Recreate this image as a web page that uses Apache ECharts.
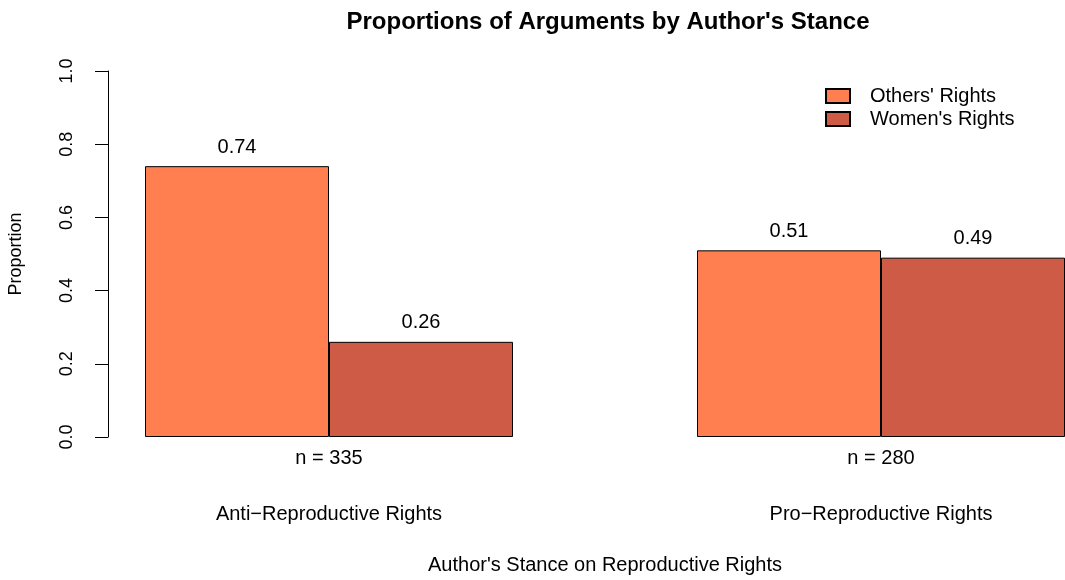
<!DOCTYPE html>
<html>
<head>
<meta charset="utf-8">
<script src="https://cdn.jsdelivr.net/npm/echarts@6/dist/echarts.min.js"></script>
<style>
  html, body { margin: 0; padding: 0; background: #fff; }
  #chart { width: 1065px; height: 580px; }
</style>
</head>
<body>
<div id="chart"></div>
<script>
// data
const stances = ["Anti\u2212Reproductive Rights", "Pro\u2212Reproductive Rights"];
const sampleSizes = ["n = 335", "n = 280"];
const othersRights = [0.74, 0.51];
const womensRights = [0.26, 0.49];

const font = "Liberation Sans, Arial, Helvetica, sans-serif";
const chart = echarts.init(document.getElementById("chart"));

const barLabel = {
  show: true,
  position: "top",
  distance: 9,
  color: "#000",
  fontFamily: font,
  fontSize: 20,
  formatter: (p) => p.value.toFixed(2),
};

const option = {
  animation: false,
  title: {
    text: "Proportions of Arguments by Author's Stance",
    left: 603,
    top: 5,
    textAlign: "center",
    textStyle: { fontFamily: font, fontSize: 24, fontWeight: "bold", color: "#000" },
  },
  legend: {
    orient: "vertical",
    left: 820,
    top: 81,
    icon: "rect",
    itemWidth: 24,
    itemHeight: 14,
    itemGap: 3,
    textStyle: { fontFamily: font, fontSize: 20, color: "#000", padding: [0, 0, 0, 15] },
    data: ["Others' Rights", "Women's Rights"],
  },
  // grid 0 only carries the y axis, grid 1 holds the bars (runs past the right edge like the original)
  grid: [
    { left: 108, top: 71, width: 10, height: 366, outerBoundsMode: "none" },
    { left: 53, top: 71, width: 1104, height: 366, outerBoundsMode: "none" },
  ],
  xAxis: [
    { gridIndex: 0, type: "value", show: false },
    {
      gridIndex: 1,
      type: "category",
      data: sampleSizes,
      axisLine: { show: false },
      axisTick: { show: false },
      axisLabel: { margin: 11, color: "#000", fontFamily: font, fontSize: 20 },
    },
    {
      gridIndex: 1,
      type: "category",
      data: stances,
      position: "bottom",
      axisLine: { show: false },
      axisTick: { show: false },
      axisLabel: { margin: 67, color: "#000", fontFamily: font, fontSize: 20 },
      name: "Author's Stance on Reproductive Rights",
      nameLocation: "middle",
      nameGap: 118,
      nameTextStyle: { color: "#000", fontFamily: font, fontSize: 20 },
    },
  ],
  yAxis: [
    {
      gridIndex: 0,
      type: "value",
      min: 0,
      max: 1,
      interval: 0.2,
      axisLine: { show: true, lineStyle: { color: "#000", width: 1 } },
      axisTick: { show: true, length: 13, lineStyle: { color: "#000" } },
      axisLabel: {
        rotate: 90,
        margin: 32,
        color: "#000",
        fontFamily: font,
        fontSize: 18,
        formatter: (v) => v.toFixed(1),
      },
      splitLine: { show: false },
      name: "Proportion",
      nameLocation: "middle",
      nameGap: 83,
      nameTextStyle: { color: "#000", fontFamily: font, fontSize: 18 },
    },
    { gridIndex: 1, type: "value", min: 0, max: 1, show: false },
  ],
  series: [
    {
      name: "Others' Rights",
      type: "bar",
      xAxisIndex: 1,
      yAxisIndex: 1,
      data: othersRights,
      barWidth: 184,
      barGap: "0%",
      itemStyle: { color: "#FF7F50", borderColor: "#000", borderWidth: 1 },
      label: barLabel,
    },
    {
      name: "Women's Rights",
      type: "bar",
      xAxisIndex: 1,
      yAxisIndex: 1,
      data: womensRights,
      barWidth: 184,
      barGap: "0%",
      itemStyle: { color: "#CD5B45", borderColor: "#000", borderWidth: 1 },
      label: barLabel,
    },
  ],
};

chart.setOption(option);
window.addEventListener("resize", () => chart.resize());
</script>
</body>
</html>
